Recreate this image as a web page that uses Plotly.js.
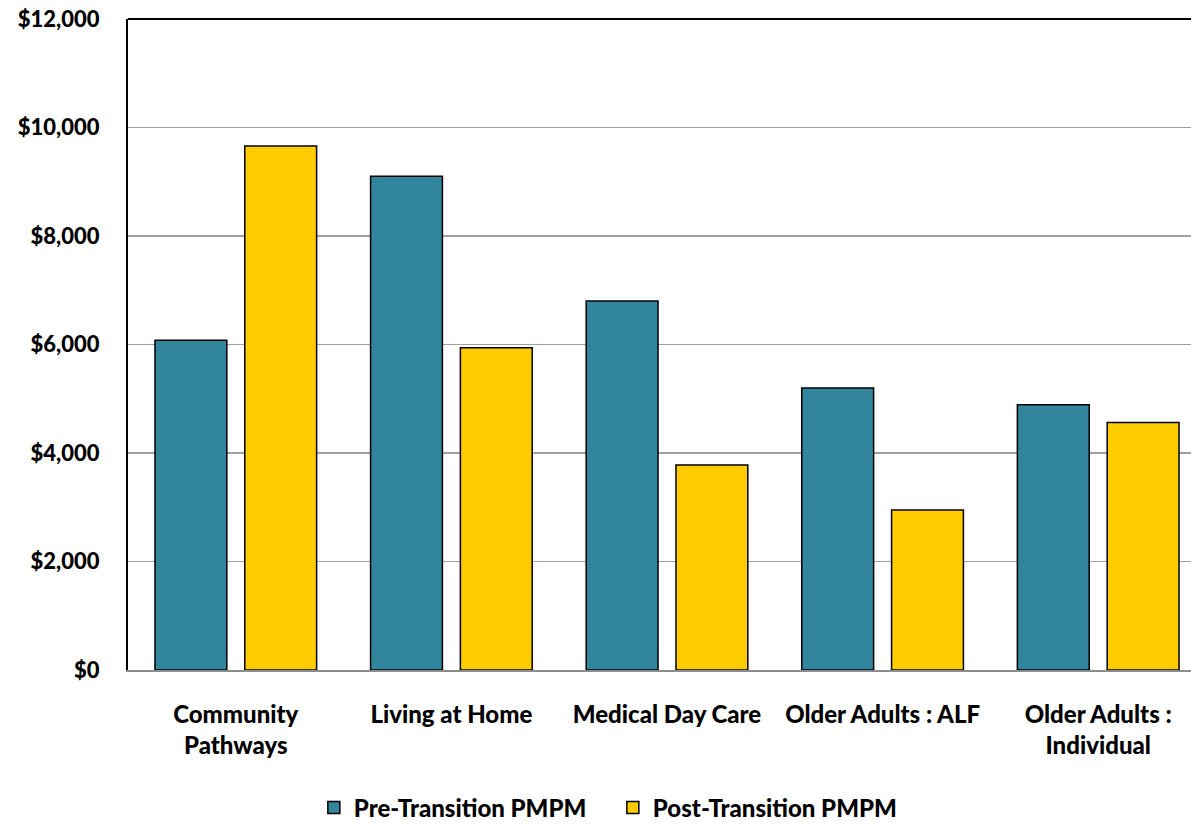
<!DOCTYPE html>
<html><head><meta charset="utf-8">
<script src="https://cdn.plot.ly/plotly-3.0.1.min.js"></script>
<style>html,body{margin:0;background:#fff;overflow:hidden}#c{width:1206px;height:825px}</style>
</head><body><div id="c"></div>
<script>
const categories = ["Community<br>Pathways", "Living at Home", "Medical Day Care", "Older Adults : ALF", "Older Adults :<br>Individual"];
const preTransition = [6080, 9100, 6800, 5200, 4890];
const postTransition = [9660, 5940, 3780, 2950, 4560];
const seriesNames = ["Pre-Transition PMPM", "Post-Transition PMPM"];
const yTickVals = [0, 2000, 4000, 6000, 8000, 10000, 12000];
const yTickText = ["$0", "$2,000", "$4,000", "$6,000", "$8,000", "$10,000", "$12,000"];

const fam = "Lato, 'Liberation Sans', sans-serif";
const traces = [
  {type: "bar", name: seriesNames[0], x: categories, y: preTransition,
   marker: {color: "#31859C", line: {color: "#000", width: 1.5}}},
  {type: "bar", name: seriesNames[1], x: categories, y: postTransition,
   marker: {color: "#FFCC00", line: {color: "#000", width: 1.5}}}
];
const layout = {
  width: 1206, height: 825,
  margin: {l: 128, r: 0, t: 19, b: 155},
  paper_bgcolor: "#fff", plot_bgcolor: "#fff",
  font: {family: fam, size: 24, color: "#000"},
  barmode: "group", bargap: 0.167, bargroupgap: 0.2,
  showlegend: true,
  legend: {orientation: "h", x: 0.1724, xanchor: "left", yref: "container", y: 0.0206, yanchor: "middle",
           font: {family: fam, size: 24, color: "#000", weight: 900}, itemwidth: 20,
           entrywidth: 254, traceorder: "normal"},
  xaxis: {showgrid: false, showline: true, linecolor: "#8c8c8c", linewidth: 2, automargin: false,
          ticks: "", tickfont: {family: fam, size: 24, color: "#000", weight: 900},
          ticklabelstandoff: 22, fixedrange: true},
  yaxis: {range: [0, 12000], tickvals: yTickVals, ticktext: yTickText, automargin: false,
          showgrid: true, gridcolor: "#a0a0a0", gridwidth: 1.5,
          showline: true, linecolor: "#000", linewidth: 2, zeroline: false,
          ticks: "", ticklabelstandoff: 22,
          tickfont: {family: fam, size: 22, color: "#000", weight: 900}, fixedrange: true},
  shapes: [{type: "line", xref: "paper", yref: "paper", x0: 0, x1: 1, y0: 1, y1: 1,
            line: {color: "#000", width: 2}}]
};
Plotly.newPlot("c", traces, layout, {displayModeBar: false, staticPlot: true});
</script></body></html>
